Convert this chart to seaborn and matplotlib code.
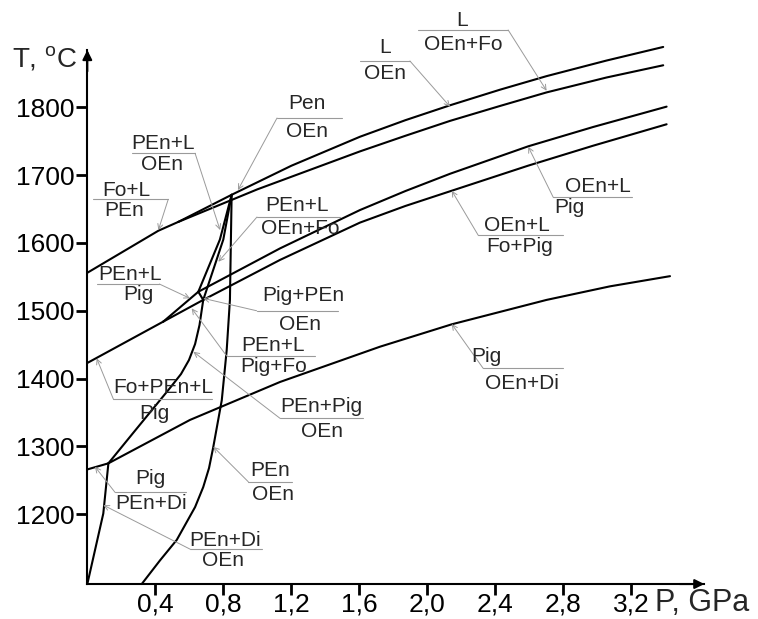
import pandas as pd
import matplotlib
matplotlib.use('Agg')
import matplotlib.pyplot as plt
import seaborn as sns

# phase boundaries: P in GPa, T in deg C
fo_l_p = [0.0, 0.418, 0.535]
fo_l_t = [1556, 1618, 1631]
l_oen_p = [0.535, 0.849, 1.2, 1.604, 1.871, 2.134, 2.428, 2.702, 3.055, 3.388]
l_oen_t = [1631, 1671, 1713.8, 1756.6, 1781, 1803, 1826, 1846, 1869, 1889]
l_oenfo_p = [0.535, 1.0, 1.604, 1.871, 2.134, 2.428, 2.702, 3.055, 3.388]
l_oenfo_t = [1631, 1679, 1735, 1758, 1780, 1802, 1822, 1844, 1862]
fo_pen_p = [0.0, 0.447]
fo_pen_t = [1423, 1484]
oenl_pig_p = [0.447, 0.653, 1.134, 1.604, 1.871, 2.134, 2.594, 2.976, 3.408]
oenl_pig_t = [1484, 1528, 1592, 1648.5, 1676.5, 1702, 1742.5, 1771, 1801]
oenl_fopig_p = [0.447, 0.682, 1.134, 1.604, 1.871, 2.144, 2.594, 2.976, 3.408]
oenl_fopig_t = [1484, 1516, 1575, 1630, 1654.5, 1677, 1714, 1743.4, 1775]
lens_a_p = [0.849, 0.78, 0.653]
lens_a_t = [1671, 1605, 1528]
lens_b_p = [0.849, 0.80, 0.682]
lens_b_t = [1671, 1605, 1516]
ab_p = [0.653, 0.682]
ab_t = [1528, 1516]
pen_oen_p = [0.849, 0.839, 0.820, 0.791, 0.741, 0.716, 0.682, 0.634, 0.526, 0.428, 0.32]
pen_oen_t = [1671, 1516, 1442, 1368, 1299, 1268, 1240, 1210.5, 1162, 1132, 1097]
fopenl_p = [0.682, 0.660, 0.634, 0.598, 0.551, 0.486, 0.41, 0.269, 0.124]
fopenl_t = [1516, 1478.9, 1450.9, 1427.3, 1406.6, 1386, 1362.7, 1319.6, 1275]
c_left_p = [0.0, 0.124]
c_left_t = [1266, 1275]
c_down_p = [0.124, 0.094, 0.0]
c_down_t = [1275, 1201, 1097]
pig_di_p = [0.124, 0.604, 1.134, 1.722, 2.144, 2.702, 3.075, 3.428]
pig_di_t = [1275, 1339, 1395, 1447, 1480, 1516, 1536, 1551]

curves = {
    'fo_l': (fo_l_p, fo_l_t),
    'l_oen': (l_oen_p, l_oen_t),
    'l_oenfo': (l_oenfo_p, l_oenfo_t),
    'fo_pen': (fo_pen_p, fo_pen_t),
    'oenl_pig': (oenl_pig_p, oenl_pig_t),
    'oenl_fopig': (oenl_fopig_p, oenl_fopig_t),
    'lens_a': (lens_a_p, lens_a_t),
    'lens_b': (lens_b_p, lens_b_t),
    'ab': (ab_p, ab_t),
    'pen_oen': (pen_oen_p, pen_oen_t),
    'fopenl': (fopenl_p, fopenl_t),
    'c_left': (c_left_p, c_left_t),
    'c_down': (c_down_p, c_down_t),
    'pig_di': (pig_di_p, pig_di_t),
}

rows = []
for name, (p, t) in curves.items():
    for pp, tt in zip(p, t):
        rows.append({'curve': name, 'P': pp, 'T': tt})
df = pd.DataFrame(rows)

# field labels (upper / lower text)
lab_top = ['Fo+L', 'PEn+L', 'Pen', 'PEn+L', 'L', 'L', 'OEn+L', 'OEn+L', 'PEn+L',
           'Pig+PEn', 'PEn+L', 'PEn+Pig', 'Fo+PEn+L', 'Pig', 'Pig', 'PEn', 'PEn+Di']
lab_bot = ['PEn', 'OEn', 'OEn', 'OEn+Fo', 'OEn', 'OEn+Fo', 'Pig', 'Fo+Pig', 'Pig',
           'OEn', 'Pig+Fo', 'OEn', 'Pig', 'OEn+Di', 'PEn+Di', 'OEn', 'OEn']

# placement: top text xy, bottom text xy, rule x0, x1, y, arrow start xy, arrow tip xy
lab_pos = [
    (0.232, 1678, 0.216, 1648.5, 0.035, 0.476, 1664.3, 0.476, 1664.3, 0.418, 1619),
    (0.447, 1746.9, 0.438, 1715.9, 0.261, 0.634, 1732.2, 0.634, 1732.2, 0.781, 1619),
    (1.292, 1806.3, 1.292, 1763.6, 1.116, 1.498, 1784.2, 1.116, 1784.2, 0.886, 1678),
    (1.234, 1655.9, 1.251, 1622, 0.998, 1.486, 1638.2, 0.998, 1638.2, 0.771, 1572.3),
    (1.751, 1887.5, 1.751, 1850.6, 1.604, 1.898, 1868.3, 1.898, 1868.3, 2.134, 1800.9),
    (2.202, 1927.3, 2.21, 1891.9, 1.947, 2.476, 1914, 2.476, 1914, 2.702, 1824.5),
    (3.004, 1682.9, 2.834, 1652.9, 2.741, 3.202, 1667.3, 2.741, 1667.3, 2.594, 1741.9),
    (2.526, 1626.4, 2.545, 1594.4, 2.3, 2.8, 1611.2, 2.3, 1611.2, 2.144, 1677),
    (0.251, 1554.1, 0.3, 1524.2, 0.055, 0.424, 1539.4, 0.424, 1539.4, 0.604, 1518.3),
    (1.271, 1523.2, 1.251, 1479, 0.996, 1.476, 1500, 0.996, 1500, 0.682, 1518.3),
    (1.094, 1449.4, 1.094, 1417.4, 0.82, 1.339, 1433.2, 0.82, 1433.2, 0.614, 1503.5),
    (1.379, 1358.4, 1.379, 1321.5, 1.134, 1.624, 1341.3, 1.134, 1341.3, 0.624, 1439.5),
    (0.447, 1387, 0.392, 1348.7, 0.153, 0.732, 1369.8, 0.153, 1369.8, 0.055, 1429.8),
    (2.349, 1432.2, 2.555, 1392.9, 2.329, 2.8, 1415, 2.329, 1415, 2.144, 1480.4),
    (0.369, 1252.8, 0.373, 1215.9, 0.163, 0.581, 1232.2, 0.163, 1232.2, 0.045, 1270),
    (1.075, 1265, 1.094, 1229.7, 0.947, 1.202, 1247.8, 0.947, 1247.8, 0.741, 1299.4),
    (0.81, 1161.8, 0.8, 1132.3, 0.604, 1.026, 1148.5, 0.604, 1148.5, 0.094, 1213.4),
]

x_ticks = [0.4, 0.8, 1.2, 1.6, 2.0, 2.4, 2.8, 3.2]
x_labels = ['0,4', '0,8', '1,2', '1,6', '2,0', '2,4', '2,8', '3,2']
y_ticks = [1200, 1300, 1400, 1500, 1600, 1700, 1800]

sns.set_theme(style='ticks')
plt.rcParams['font.family'] = ['Liberation Sans', 'DejaVu Sans']
plt.rcParams['mathtext.fontset'] = 'custom'
plt.rcParams['mathtext.rm'] = 'Liberation Sans'

fig = plt.figure(figsize=(7.58, 6.19), dpi=100)
ax = fig.add_axes([0.1152, 0.0565, 0.814, 0.8627])

sns.lineplot(data=df, x='P', y='T', units='curve', estimator=None, sort=False,
             color='black', lw=1.5, ax=ax, legend=False)
for ln in ax.lines:
    ln.set_clip_on(False)

ax.set_xlim(0, 3.63)
ax.set_ylim(1097, 1884.5)

gray = '#9a9a9a'
for top, bot, pos in zip(lab_top, lab_bot, lab_pos):
    xt, yt, xb, yb, x0, x1, yl, xs, ys, xa, ya = pos
    ax.plot([x0, x1], [yl, yl], color=gray, lw=0.8, clip_on=False)
    ax.annotate('', xy=(xa, ya), xytext=(xs, ys),
                arrowprops=dict(arrowstyle='->', color=gray, lw=0.7,
                                shrinkA=0, shrinkB=0, mutation_scale=9),
                annotation_clip=False)
    ax.text(xt, yt, top, ha='center', va='center', fontsize=15, clip_on=False)
    ax.text(xb, yb, bot, ha='center', va='center', fontsize=15, clip_on=False)

ax.set_xticks(x_ticks)
ax.set_xticklabels(x_labels)
ax.set_yticks(y_ticks)
ax.set_xlabel('')
ax.set_ylabel('')
ax.tick_params(axis='both', direction='out', length=8, width=2, color='black',
               labelsize=19, labelcolor='black')
ax.tick_params(axis='y', pad=1)
ax.tick_params(axis='x', pad=-2)

for s in ['top', 'right']:
    ax.spines[s].set_visible(False)
for s in ['left', 'bottom']:
    ax.spines[s].set_linewidth(1.5)
    ax.spines[s].set_color('black')

# axis arrows
ax.annotate('', xy=(0, 1.0), xytext=(0, 0.96), xycoords='axes fraction',
            arrowprops=dict(arrowstyle='-|>', color='black', lw=1.5, mutation_scale=14,
                            shrinkA=0, shrinkB=0))
ax.annotate('', xy=(1.0, 0), xytext=(0.96, 0), xycoords='axes fraction',
            arrowprops=dict(arrowstyle='-|>', color='black', lw=1.5, mutation_scale=14,
                            shrinkA=0, shrinkB=0))

fig.text(655 / 758, 1 - 603 / 619, 'P, GPa', fontsize=22, va='center', ha='left')
fig.text(12 / 758, 1 - 59 / 619, r'T, $^{\rm o}$C', fontsize=20, va='center', ha='left')

fig.savefig('out.png', dpi=100, facecolor='white')
